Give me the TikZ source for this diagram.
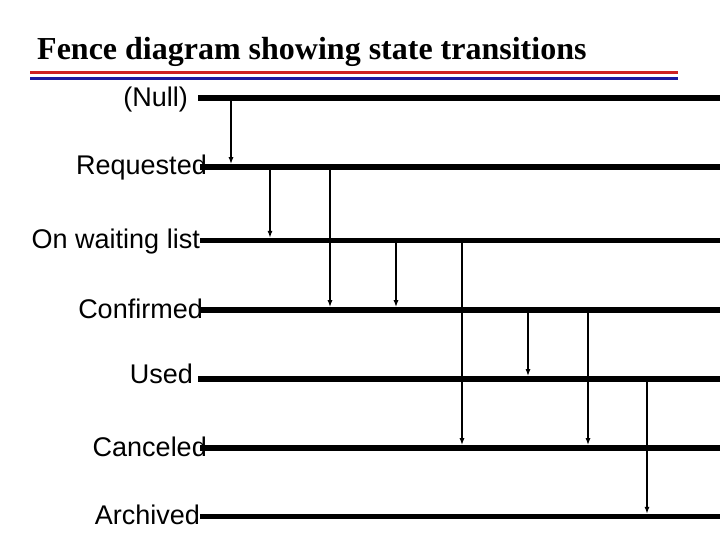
\documentclass[tikz,border=0pt]{standalone}
\usepackage{fontspec}
\setmainfont{Liberation Serif}
\setsansfont{Liberation Sans}
\usetikzlibrary{arrows.meta}
\definecolor{rulered}{RGB}{204,34,34}
\definecolor{ruleblue}{RGB}{26,26,160}
\tikzset{
  fence/.style={line width=5.5bp},
  trans/.style={line width=1.4bp,-{Latex[length=7bp,width=5bp]},shorten >=2.6bp},
  statelabel/.style={anchor=base east,inner sep=0pt,font=\sffamily\fontsize{27bp}{30bp}\selectfont},
  titletext/.style={anchor=base west,inner sep=0pt,font=\rmfamily\bfseries\fontsize{32bp}{36bp}\selectfont},
}
\begin{document}
\begin{tikzpicture}[x=1bp,y=-1bp]
\useasboundingbox[fill=white] (0,0) rectangle (720,540);
% title and rules
\node[titletext] (title) at (37,60) {Fence diagram showing state transitions};
\draw[rulered,line width=3bp] (30,72.3) coordinate (rs) -- (678,72.3) coordinate (re);
\draw[ruleblue,line width=3bp] (30,78.3) coordinate (bs) -- (678,78.3) coordinate (be);
% state labels
\node[statelabel] (lnull) at (188,107) {(Null)};
\node[statelabel] (lreq)  at (207,175) {Requested};
\node[statelabel] (lwait) at (200,248.5) {On waiting list};
\node[statelabel] (lconf) at (203,318) {Confirmed};
\node[statelabel] (lused) at (193,383) {Used};
\node[statelabel] (lcanc) at (207,456) {Canceled};
\node[statelabel] (larch) at (200,524.5) {Archived};
% fence lines
\coordinate (null) at (198,97.8);
\coordinate (req)  at (200,166.8);
\coordinate (wait) at (200,240.5);
\coordinate (conf) at (200,309.8);
\coordinate (used) at (198,378.8);
\coordinate (canc) at (200,447.8);
\coordinate (arch) at (200,516.5);
\coordinate (rightedge) at (725,0);
\foreach \s in {null,req,wait,conf,used,canc,arch}
  \draw[fence] (\s) -- (\s -| rightedge);
% transition x positions
\coordinate (t1) at (231,0);
\coordinate (t2) at (270,0);
\coordinate (t3) at (330,0);
\coordinate (t4) at (396,0);
\coordinate (t5) at (462,0);
\coordinate (t6) at (528,0);
\coordinate (t7) at (588,0);
\coordinate (t8) at (647,0);
% transitions
\draw[trans] (t1 |- null) -- (t1 |- req);
\draw[trans] (t2 |- req)  -- (t2 |- wait);
\draw[trans] (t3 |- req)  -- (t3 |- conf);
\draw[trans] (t4 |- wait) -- (t4 |- conf);
\draw[trans] (t5 |- wait) -- (t5 |- canc);
\draw[trans] (t6 |- conf) -- (t6 |- used);
\draw[trans] (t7 |- conf) -- (t7 |- canc);
\draw[trans] (t8 |- used) -- (t8 |- arch);
\end{tikzpicture}
\end{document}
